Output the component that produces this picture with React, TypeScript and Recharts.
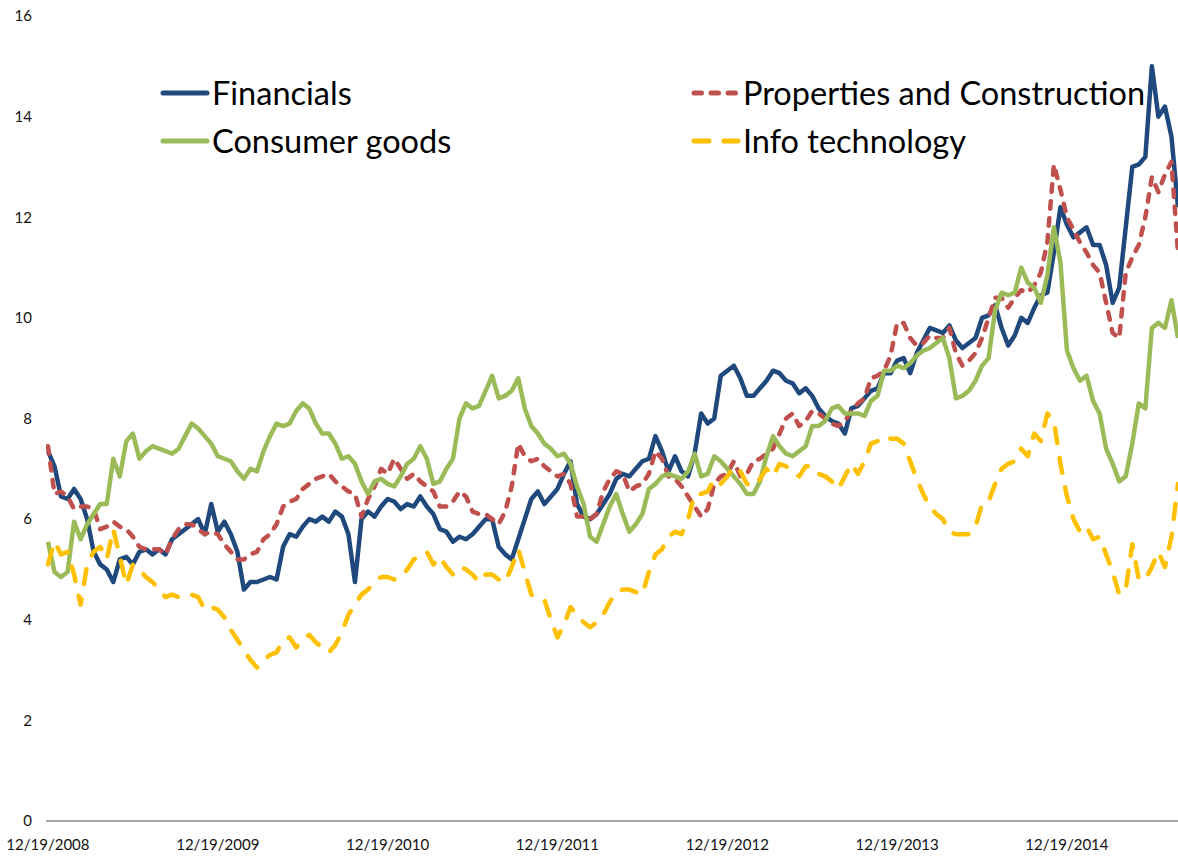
import { LineChart, Line, XAxis, YAxis, Legend } from 'recharts';

// one value every second week, starting 12/19/2008
const financials = [
  7.35, 7.05, 6.45, 6.4, 6.6, 6.4, 6.0, 5.35, 5.1, 5.0,
  4.75, 5.2, 5.25, 5.1, 5.35, 5.4, 5.3, 5.4, 5.3, 5.6,
  5.7, 5.8, 5.9, 6.0, 5.7, 6.3, 5.75, 5.95, 5.7, 5.35,
  4.6, 4.75, 4.75, 4.8, 4.85, 4.8, 5.45, 5.7, 5.65, 5.85,
  6.0, 5.95, 6.05, 5.95, 6.15, 6.05, 5.7, 4.75, 6.0, 6.15,
  6.05, 6.25, 6.4, 6.35, 6.2, 6.3, 6.25, 6.45, 6.25, 6.1,
  5.8, 5.75, 5.55, 5.65, 5.6, 5.7, 5.85, 6.0, 6.0, 5.45,
  5.3, 5.2, 5.6, 6.0, 6.4, 6.55, 6.3, 6.45, 6.6, 6.9,
  7.15, 6.3, 6.05, 6.0, 6.1, 6.3, 6.5, 6.8, 6.9, 6.85,
  7.0, 7.15, 7.2, 7.65, 7.35, 6.95, 7.25, 6.95, 6.85, 7.3,
  8.1, 7.9, 8.0, 8.85, 8.95, 9.05, 8.8, 8.45, 8.45, 8.6,
  8.75, 8.95, 8.9, 8.75, 8.7, 8.5, 8.6, 8.45, 8.2, 8.05,
  7.95, 7.9, 7.7, 8.2, 8.25, 8.4, 8.55, 8.6, 8.9, 8.9,
  9.15, 9.2, 8.9, 9.3, 9.55, 9.8, 9.75, 9.7, 9.85, 9.55,
  9.4, 9.5, 9.6, 10.0, 10.05, 10.25, 9.8, 9.45, 9.65, 10.0,
  9.9, 10.2, 10.45, 10.5, 11.3, 12.2, 11.85, 11.6, 11.7, 11.8,
  11.45, 11.45, 11.05, 10.3, 10.6, 11.8, 13.0, 13.05, 13.2, 15.0,
  14.0, 14.2, 13.6, 12.2,
];

const properties = [
  7.45, 6.5, 6.55, 6.45, 6.2, 6.25, 6.25, 6.2, 5.8, 5.85,
  5.95, 5.85, 5.8, 5.65, 5.45, 5.4, 5.4, 5.4, 5.3, 5.6,
  5.8, 5.9, 5.9, 5.8, 5.7, 5.75, 5.7, 5.5, 5.35, 5.2,
  5.2, 5.3, 5.35, 5.6, 5.7, 5.9, 6.25, 6.35, 6.4, 6.6,
  6.7, 6.8, 6.85, 6.9, 6.75, 6.65, 6.55, 6.5, 6.05, 6.4,
  6.65, 7.0, 6.9, 7.2, 7.0, 6.8, 6.9, 6.75, 6.65, 6.55,
  6.25, 6.25, 6.35, 6.55, 6.45, 6.15, 6.1, 6.1, 6.0, 5.9,
  6.15, 6.65, 7.5, 7.25, 7.15, 7.2, 7.05, 6.95, 6.85, 6.9,
  6.7, 6.05, 6.05, 6.0, 6.1, 6.55, 6.8, 6.95, 6.9, 6.55,
  6.65, 6.7, 6.9, 7.35, 7.2, 6.85, 6.8, 6.65, 6.45, 6.25,
  6.05, 6.2, 6.7, 6.85, 6.9, 7.15, 6.85, 6.9, 7.15, 7.2,
  7.3, 7.4, 7.7, 8.0, 8.1, 7.85, 7.95, 8.15, 8.1, 8.0,
  7.9, 7.85, 7.95, 8.15, 8.3, 8.4, 8.8, 8.85, 8.95, 9.25,
  9.9, 9.9, 9.6, 9.45, 9.5, 9.65, 9.6, 9.6, 9.8, 9.3,
  9.05, 9.15, 9.3, 9.6, 10.0, 10.4, 10.4, 10.2, 10.4, 10.55,
  10.5, 10.65, 10.9, 11.5, 13.05, 12.55, 12.0, 11.75, 11.5, 11.3,
  11.05, 10.9, 10.3, 9.7, 9.6, 10.9, 11.2, 11.45, 12.0, 12.8,
  12.5, 12.85, 13.1, 11.3,
];

const consumerGoods = [
  5.55, 4.95, 4.85, 4.95, 5.95, 5.6, 5.9, 6.1, 6.3, 6.3,
  7.2, 6.85, 7.55, 7.7, 7.2, 7.35, 7.45, 7.4, 7.35, 7.3,
  7.4, 7.65, 7.9, 7.8, 7.65, 7.5, 7.25, 7.2, 7.15, 6.95,
  6.8, 7.0, 6.95, 7.35, 7.65, 7.9, 7.85, 7.9, 8.15, 8.3,
  8.2, 7.9, 7.7, 7.7, 7.5, 7.2, 7.25, 7.1, 6.75, 6.5,
  6.75, 6.8, 6.7, 6.65, 6.85, 7.1, 7.2, 7.45, 7.2, 6.7,
  6.75, 7.0, 7.2, 8.0, 8.3, 8.2, 8.25, 8.55, 8.85, 8.4,
  8.45, 8.55, 8.8, 8.2, 7.85, 7.7, 7.5, 7.4, 7.25, 7.3,
  7.1, 6.65, 6.3, 5.65, 5.55, 5.9, 6.25, 6.5, 6.1, 5.75,
  5.9, 6.1, 6.6, 6.7, 6.85, 6.9, 6.85, 6.8, 6.95, 7.3,
  6.85, 6.9, 7.25, 7.15, 7.0, 6.85, 6.7, 6.5, 6.5, 6.75,
  7.25, 7.65, 7.45, 7.3, 7.25, 7.35, 7.45, 7.85, 7.85, 7.95,
  8.2, 8.25, 8.1, 8.1, 8.1, 8.05, 8.35, 8.45, 8.95, 8.95,
  9.05, 9.0, 9.1, 9.25, 9.35, 9.4, 9.5, 9.6, 9.2, 8.4,
  8.45, 8.55, 8.75, 9.05, 9.2, 10.15, 10.5, 10.45, 10.5, 11.0,
  10.7, 10.6, 10.3, 10.85, 11.8, 11.1, 9.35, 9.0, 8.75, 8.85,
  8.35, 8.1, 7.4, 7.1, 6.75, 6.85, 7.5, 8.3, 8.2, 9.8,
  9.9, 9.8, 10.35, 9.6,
];

const infoTech = [
  5.1, 5.55, 5.3, 5.35, 4.9, 4.3, 5.1, 5.35, 5.45, 5.2,
  5.8, 5.25, 4.7, 5.1, 5.0, 4.85, 4.75, 4.6, 4.45, 4.5,
  4.45, 4.5, 4.5, 4.45, 4.2, 4.25, 4.2, 4.05, 3.8, 3.6,
  3.4, 3.2, 3.05, 3.2, 3.3, 3.35, 3.6, 3.65, 3.45, 3.6,
  3.7, 3.55, 3.45, 3.35, 3.5, 3.75, 4.1, 4.3, 4.5, 4.6,
  4.75, 4.85, 4.85, 4.8, 4.85, 5.0, 5.2, 5.25, 5.35, 5.1,
  5.25, 5.05, 4.9, 5.05, 5.0, 4.9, 4.75, 4.9, 4.9, 4.8,
  4.75, 5.05, 5.4, 4.95, 4.5, 4.45, 4.4, 4.0, 3.65, 3.9,
  4.25, 4.1, 3.95, 3.85, 3.95, 4.1, 4.35, 4.55, 4.6, 4.6,
  4.55, 4.5, 4.95, 5.3, 5.4, 5.65, 5.75, 5.7, 6.0, 6.5,
  6.5, 6.55, 6.8, 6.7, 6.85, 7.05, 6.95, 6.7, 6.65, 6.8,
  7.0, 6.85, 7.1, 7.05, 6.95, 6.85, 7.05, 7.05, 6.9, 6.85,
  6.75, 6.6, 6.85, 7.1, 6.9, 7.15, 7.5, 7.55, 7.65, 7.6,
  7.6, 7.5, 7.15, 6.8, 6.5, 6.25, 6.1, 6.0, 5.75, 5.7,
  5.7, 5.7, 5.85, 6.3, 6.35, 6.7, 7.0, 7.1, 7.15, 7.4,
  7.25, 7.7, 7.55, 8.1, 7.95, 7.1, 6.45, 6.0, 5.75, 5.85,
  5.6, 5.65, 5.3, 4.95, 4.5, 4.6, 5.5, 4.8, 4.8, 5.05,
  5.35, 5.05, 5.65, 6.7,
];

const tickWeeks = [0, 52, 104, 156, 208, 260, 312];
const tickLabels = ['12/19/2008', '12/19/2009', '12/19/2010', '12/19/2011', '12/19/2012', '12/19/2013', '12/19/2014'];
const yTicks = [0, 2, 4, 6, 8, 10, 12, 14, 16];

const chartData = financials.map((v, i) => ({
  week: i * 2,
  financials: v,
  properties: properties[i],
  consumerGoods: consumerGoods[i],
  infoTech: infoTech[i],
}));

const series = [
  { key: 'financials', name: 'Financials', color: '#1F497D', dash: undefined as string | undefined },
  { key: 'properties', name: 'Properties and Construction', color: '#C0504D', dash: '7.5 9.5' },
  { key: 'consumerGoods', name: 'Consumer goods', color: '#9BBB59', dash: undefined as string | undefined },
  { key: 'infoTech', name: 'Info technology', color: '#FFC000', dash: '15 15' },
];

const font = 'Lato, "Open Sans", sans-serif';

function LegendBox() {
  // two columns, two rows, in the order Excel lays them out
  return (
    <div style={{ display: 'grid', gridTemplateColumns: '531px 480px', rowGap: 2, fontFamily: font, fontSize: 32.5, color: '#000' }}>
      {series.map((s) => (
        <div key={s.key} style={{ display: 'flex', alignItems: 'center', height: 46 }}>
          <svg width={50} height={10} style={{ flex: 'none' }}>
            <line x1={3} y1={5} x2={47} y2={5} stroke={s.color} strokeWidth={5}
              strokeLinecap="round" strokeDasharray={s.dash} />
          </svg>
          <span style={{ marginLeft: 2, whiteSpace: 'nowrap', lineHeight: '46px' }}>{s.name}</span>
        </div>
      ))}
    </div>
  );
}

export default function App() {
  return (
    <div style={{ width: 1178, height: 856, background: '#fff', position: 'relative' }}>
      <style>{'body{margin:0;background:#fff}'}</style>
      <LineChart width={1178} height={856} data={chartData} margin={{ top: 16, right: 0, bottom: 0, left: 0 }}>
        <XAxis
          dataKey="week"
          type="number"
          domain={[-0.6, 346]}
          allowDataOverflow
          ticks={tickWeeks}
          tickFormatter={(v) => tickLabels[tickWeeks.indexOf(v)] ?? ''}
          interval={0}
          height={35}
          tickLine={false}
          tickMargin={12}
          axisLine={{ stroke: '#898989', strokeWidth: 1.5 }}
          tick={{ fill: '#111', fontSize: 15, fontFamily: font }}
        />
        <YAxis
          domain={[0, 16]}
          ticks={yTicks}
          interval={0}
          width={46}
          axisLine={false}
          tickLine={false}
          tickMargin={8}
          tick={{ fill: '#111', fontSize: 15, fontFamily: font }}
        />
        <Legend
          layout="horizontal"
          verticalAlign="middle"
          align="center"
          content={() => <LegendBox />}
          wrapperStyle={{ left: 160, top: 70, width: 1011, height: 100 }}
        />
        {series.map((s) => (
          <Line
            key={s.key}
            dataKey={s.key}
            name={s.name}
            type="linear"
            stroke={s.color}
            strokeWidth={4.5}
            strokeDasharray={s.dash}
            strokeLinecap={s.dash ? 'round' : 'butt'}
            strokeLinejoin="round"
            dot={false}
            activeDot={false}
            isAnimationActive={false}
          />
        ))}
      </LineChart>
    </div>
  );
}
